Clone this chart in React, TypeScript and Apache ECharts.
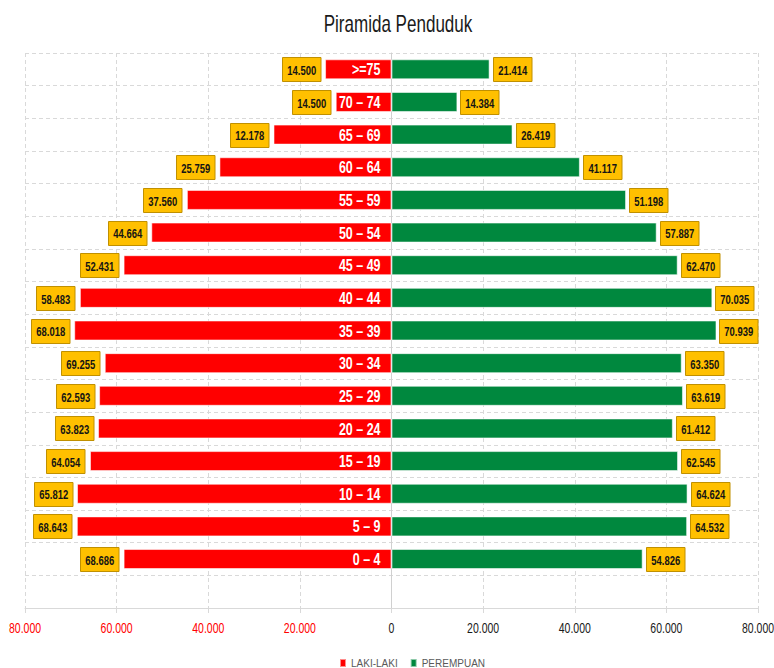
import React, { useEffect, useRef } from "react";
import * as echarts from "echarts";

// Categories from bottom to top (first one is an empty band, as in the reference)
const categories = [
  "",
  "0 – 4",
  "5 – 9",
  "10 – 14",
  "15 – 19",
  "20 – 24",
  "25 – 29",
  "30 – 34",
  "35 – 39",
  "40 – 44",
  "45 – 49",
  "50 – 54",
  "55 – 59",
  "60 – 64",
  "65 – 69",
  "70 – 74",
  ">=75",
];

// Bar lengths (bottom to top, starting at "0 – 4")
const maleValues = [
  58480, 68686, 68643, 65812, 64054, 63823, 62593, 69255, 68018, 58483, 52431,
  44664, 37560, 25759, 12178, 14500,
];

// Label texts shown beside the male bars (as printed in the reference)
const maleLabels = [
  "68.686", "68.643", "65.812", "64.054", "63.823", "62.593", "69.255",
  "68.018", "58.483", "52.431", "44.664", "37.560", "25.759", "12.178",
  "14.500", "14.500",
];

const femaleValues = [
  54826, 64532, 64624, 62545, 61412, 63619, 63350, 70939, 70035, 62470, 57887,
  51198, 41117, 26419, 14384, 21414,
];

// X axis tick values (labels show the absolute value)
const xTickValues = [
  -80000, -60000, -40000, -20000, 0, 20000, 40000, 60000, 80000,
];

const xTicks = { min: -80000, max: 80000, interval: 20000 };

const FONT = "'Liberation Sans', Arial, sans-serif";

const fmt = (v: number) =>
  Math.abs(Math.round(v))
    .toString()
    .replace(/\B(?=(\d{3})+(?!\d))/g, ".");

const BOX_W = 38.5;
const BOX_H = 24;

function valueBoxSeries(side: "male" | "female") {
  const vals = side === "male" ? maleValues : femaleValues;
  return {
    type: "custom",
    name: side + "-labels",
    coordinateSystem: "cartesian2d",
    encode: { x: 0, y: 1 },
    z: 5,
    silent: true,
    data: vals.map((v, i) => [side === "male" ? -v : v, i + 1]),
    renderItem: (params: any, api: any) => {
      const pt = api.coord([api.value(0), api.value(1)]);
      const bx =
        side === "female"
          ? Math.round(pt[0] + 3) + 0.5
          : Math.round(pt[0] - 5 - BOX_W) + 0.5;
      const by = Math.round(pt[1] - BOX_H / 2) + 0.5;
      const text =
        side === "female"
          ? fmt(femaleValues[params.dataIndex])
          : maleLabels[params.dataIndex];
      return {
        type: "group",
        children: [
          {
            type: "rect",
            shape: { x: bx, y: by, width: BOX_W, height: BOX_H },
            style: { fill: "#FFC000", stroke: "#C09000", lineWidth: 1 },
          },
          {
            type: "text",
            x: bx + BOX_W / 2,
            y: pt[1] + 0.5,
            scaleX: 0.7,
            style: {
              text,
              fill: "#141414",
              font: "bold 13.5px 'Liberation Sans', Arial, sans-serif",
              align: "center",
              verticalAlign: "middle",
              textAlign: "center",
              textVerticalAlign: "middle",
            },
          },
        ],
      };
    },
  };
}

const categoryLabelSeries = {
  type: "custom",
  name: "category-labels",
  coordinateSystem: "cartesian2d",
  encode: { x: 0, y: 1 },
  z: 6,
  silent: true,
  data: categories.slice(1).map((_, i) => [0, i + 1]),
  renderItem: (params: any, api: any) => {
    const pt = api.coord([api.value(0), api.value(1)]);
    return {
      type: "text",
      x: pt[0] - 11,
      y: pt[1] + 0.5,
      scaleX: 0.78,
      style: {
        text: categories[params.dataIndex + 1],
        fill: "#ffffff",
        font: "bold 16px 'Liberation Sans', Arial, sans-serif",
        align: "right",
        verticalAlign: "middle",
        textAlign: "right",
        textVerticalAlign: "middle",
      },
    };
  },
};

const tickLabelSeries = {
  type: "custom",
  name: "x-tick-labels",
  coordinateSystem: "cartesian2d",
  encode: { x: 0, y: 1 },
  z: 6,
  silent: true,
  clip: false,
  data: xTickValues.map((v) => [v, 0]),
  renderItem: (params: any, api: any) => {
    const v = api.value(0);
    const pt = api.coord([v, 0]);
    const cs = params.coordSys;
    return {
      type: "text",
      x: pt[0],
      y: cs.y + cs.height + 20,
      scaleX: 0.7,
      style: {
        text: fmt(v),
        fill: v < 0 ? "#FF0000" : "#1a1a1a",
        font: "normal 15px 'Liberation Sans', Arial, sans-serif",
        align: "center",
        verticalAlign: "middle",
        textAlign: "center",
        textVerticalAlign: "middle",
      },
    };
  },
};

export default function App() {
  const ref = useRef<HTMLDivElement>(null);
  useEffect(() => {
    if (!ref.current) return;
    const chart = echarts.init(ref.current, null, { renderer: "svg" });
    const maleData = [null, ...maleValues.map((v) => -v)];
    const femaleData = [null, ...femaleValues];
    chart.setOption({
      animation: false,
      backgroundColor: "#ffffff",
      graphic: [
        {
          type: "text",
          x: 398,
          y: 23,
          scaleX: 0.71,
          z: 10,
          style: {
            text: "Piramida Penduduk",
            fill: "#1a1a1a",
            font: "normal 24px 'Liberation Sans', Arial, sans-serif",
            textAlign: "center",
            textVerticalAlign: "middle",
            align: "center",
            verticalAlign: "middle",
          },
        },
      ],
      legend: {
        left: 334,
        top: 653,
        itemWidth: 6,
        itemHeight: 8,
        itemGap: 12,
        icon: "rect",
        textStyle: { fontFamily: FONT, fontSize: 10, color: "#595959" },
        data: ["LAKI-LAKI", "PEREMPUAN"],
      },
      grid: {
        left: 25,
        right: 16,
        top: 53,
        bottom: 60,
        containLabel: false,
        outerBoundsMode: "none",
      },
      xAxis: {
        type: "value",
        min: xTicks.min,
        max: xTicks.max,
        interval: xTicks.interval,
        axisLine: { show: true, lineStyle: { color: "#d9d9d9", width: 1 } },
        axisTick: { show: true, length: 5, lineStyle: { color: "#d9d9d9" } },
        splitLine: {
          show: true,
          lineStyle: { color: "#d9d9d9", type: [4, 3], width: 1 },
        },
        axisLabel: { show: false },
      },
      yAxis: {
        type: "category",
        data: categories,
        axisLine: {
          show: true,
          onZero: true,
          lineStyle: { color: "#d0d0d0", width: 1 },
        },
        axisTick: { show: false },
        splitLine: {
          show: true,
          lineStyle: { color: "#d9d9d9", type: [4, 3], width: 1 },
        },
        axisLabel: { show: false },
      },
      series: [
        {
          name: "LAKI-LAKI",
          type: "bar",
          stack: "pop",
          barWidth: 20,
          data: maleData,
          itemStyle: {
            color: "#FF0000",
            borderColor: "rgba(255,255,255,0.55)",
            borderWidth: 1,
          },
        },
        {
          name: "PEREMPUAN",
          type: "bar",
          stack: "pop",
          barWidth: 20,
          data: femaleData,
          itemStyle: {
            color: "#00883E",
            borderColor: "rgba(255,255,255,0.55)",
            borderWidth: 1,
          },
        },
        valueBoxSeries("male"),
        valueBoxSeries("female"),
        categoryLabelSeries,
        tickLabelSeries,
      ],
    });
    return () => chart.dispose();
  }, []);
  return (
    <div
      ref={ref}
      style={{ position: "fixed", left: 0, top: 0, width: 774, height: 668 }}
    />
  );
}
